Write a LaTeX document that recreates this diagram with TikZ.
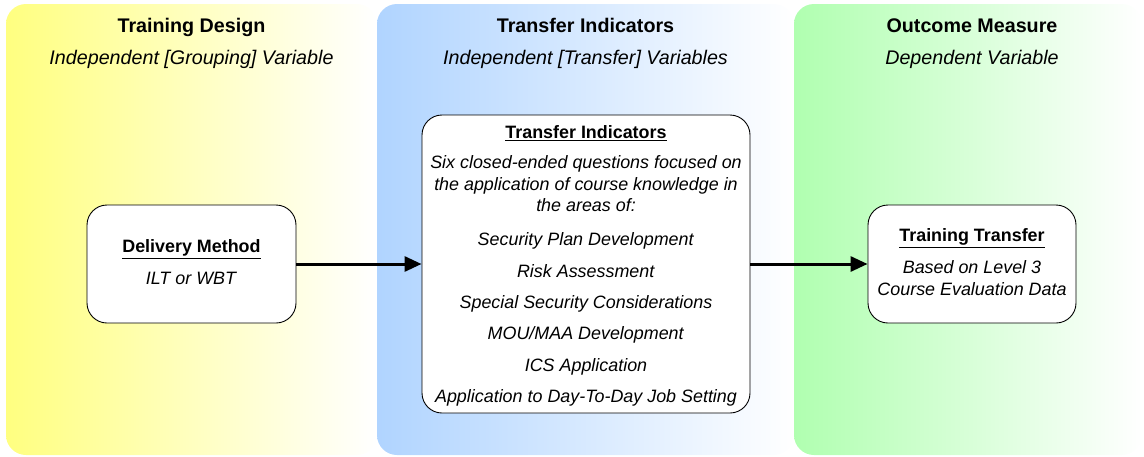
\documentclass[tikz,border=0pt]{standalone}
\usepackage{fontspec}
\setmainfont{Liberation Sans}
\usetikzlibrary{arrows.meta}
\definecolor{panelyellow}{RGB}{255,255,128}
\definecolor{panelblue}{RGB}{176,212,255}
\definecolor{panelgreen}{RGB}{176,255,176}
\tikzset{
  panel/.style={rounded corners=20pt, right color=white},
  headtitle/.style={anchor=base, font=\fontsize{19.7}{23.6}\selectfont\bfseries, inner sep=0pt},
  headsub/.style={anchor=base, font=\fontsize{19.7}{23.6}\selectfont\itshape, inner sep=0pt},
  box/.style={draw=black, line width=0.9pt, fill=white, rounded corners=20pt,
    align=center, inner sep=0pt, font=\fontsize{17.9}{21.5}\selectfont},
  flow/.style={line width=3pt, -{Triangle[length=17pt,width=15pt]}}
}
\begin{document}
\begin{tikzpicture}[x=1pt,y=-1pt]
\useasboundingbox (0,0) rectangle (1144,456);
% panels
\shade[panel, left color=panelyellow] (6,4) rectangle (377,455);
\shade[panel, left color=panelblue] (377,4) rectangle (794,455);
\shade[panel, left color=panelgreen] (794,4) rectangle (1142,455);
% headings
\node[headtitle] (h1) at (191.5,32) {Training Design};
\node[headsub] (s1) at (191.5,64) {Independent [Grouping] Variable};
\node[headtitle] (h2) at (585.5,32) {Transfer Indicators};
\node[headsub] (s2) at (585.5,64) {Independent [Transfer] Variables};
\node[headtitle] (h3) at (972,32) {Outcome Measure};
\node[headsub] (s3) at (972,64) {Dependent Variable};
% boxes
\node[box, minimum width=209pt, minimum height=118pt] (dm) at (191.5,264)
  {\underline{\textbf{Delivery Method}}\\[10.5pt]\textit{ILT or WBT}\vphantom{g}};
\node[box, minimum width=328pt, minimum height=298pt] (ti) at (586,264)
  {\rule{0pt}{17pt}\underline{\textbf{Transfer Indicators}}\\[8.5pt]
   \textit{Six closed-ended questions focused on}\\
   \textit{the application of course knowledge in}\\
   \textit{the areas of:}\\[12.5pt]
   \textit{Security Plan Development}\\[9.8pt]
   \textit{Risk Assessment}\\[9.8pt]
   \textit{Special Security Considerations}\\[9.8pt]
   \textit{MOU/MAA Development}\\[9.8pt]
   \textit{ICS Application}\\[9.8pt]
   \textit{Application to Day-To-Day Job Setting}};
\node[box, minimum width=208pt, minimum height=118pt] (tt) at (972,264)
  {\underline{\textbf{Training Transfer}}\\[10.5pt]\textit{Based on Level 3}\\\textit{Course Evaluation Data}\vphantom{g}};
% connectors
\draw[flow] (dm.east) -- (ti.west);
\draw[flow] (ti.east) -- (tt.west);
\end{tikzpicture}
\end{document}
